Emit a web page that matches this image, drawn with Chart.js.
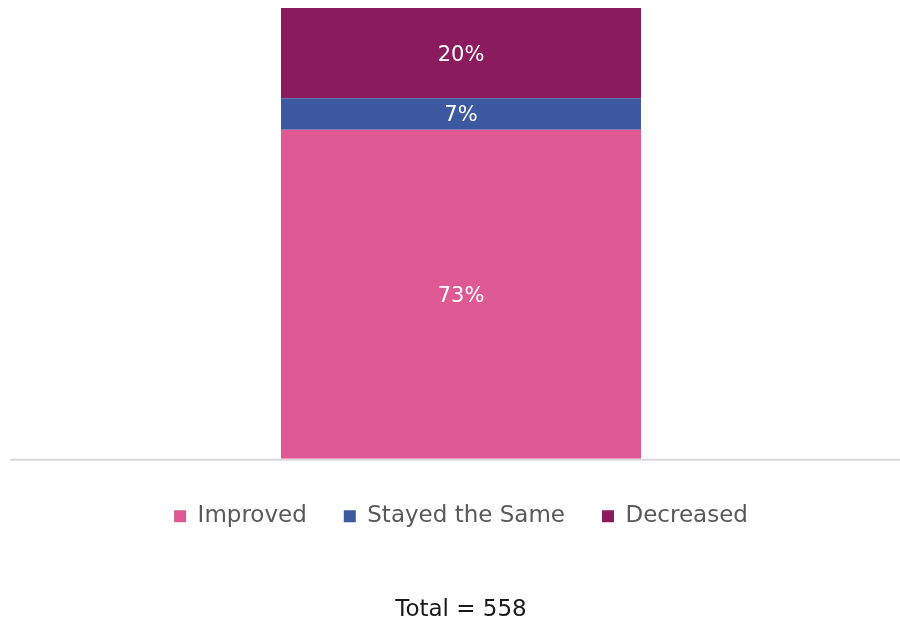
<!DOCTYPE html>
<html>
<head>
<meta charset="utf-8">
<script src="https://cdn.jsdelivr.net/npm/chart.js@4.4.1/dist/chart.umd.min.js"></script>
<style>
  html, body { margin: 0; padding: 0; background: #ffffff; }
  #wrap { width: 900px; height: 623px; }
</style>
</head>
<body>
<div id="wrap"><canvas id="chart" width="900" height="623"></canvas></div>
<script>
// Survey outcome shares (percent of respondents)
const categories = [''];
const seriesNames = ['Improved', 'Stayed the Same', 'Decreased'];
const improved = [73];
const stayedSame = [7];
const decreased = [20];
const totalLabel = 'Total = 558';

const colors = ['#DE5893', '#3B58A0', '#8B1A5E'];
const FONT = "'DejaVu Sans', 'Open Sans', sans-serif";

// Writes each segment's value in the middle of its bar
const segmentLabels = {
  id: 'segmentLabels',
  afterDatasetsDraw(chart) {
    const ctx = chart.ctx;
    ctx.save();
    ctx.fillStyle = '#ffffff';
    ctx.font = '21px ' + FONT;
    ctx.textAlign = 'center';
    ctx.textBaseline = 'middle';
    chart.data.datasets.forEach((ds, i) => {
      const meta = chart.getDatasetMeta(i);
      meta.data.forEach((bar, j) => {
        const p = bar.getProps(['x', 'y', 'base'], true);
        ctx.fillText(ds.data[j] + '%', p.x, (p.y + p.base) / 2 + 2);
      });
    });
    ctx.restore();
  }
};

// Baseline running across the full plot width
const baseline = {
  id: 'baseline',
  beforeDatasetsDraw(chart) {
    const ctx = chart.ctx;
    const y = chart.scales.y.getPixelForValue(0);
    ctx.save();
    ctx.strokeStyle = '#d9d9d9';
    ctx.lineWidth = 2;
    ctx.beginPath();
    ctx.moveTo(10, y + 1);
    ctx.lineTo(chart.chartArea.right, y + 1);
    ctx.stroke();
    ctx.restore();
  }
};

new Chart(document.getElementById('chart'), {
  type: 'bar',
  data: {
    labels: categories,
    datasets: [
      { label: seriesNames[0], data: improved, backgroundColor: colors[0] },
      { label: seriesNames[1], data: stayedSame, backgroundColor: colors[1] },
      { label: seriesNames[2], data: decreased, backgroundColor: colors[2] }
    ]
  },
  options: {
    responsive: false,
    animation: false,
    layout: { padding: { top: 8, left: 22, right: 0, bottom: 0 } },
    datasets: { bar: { barPercentage: 0.41, categoryPercentage: 1.0, borderWidth: 0 } },
    scales: {
      x: {
        stacked: true,
        display: true,
        ticks: { display: false },
        grid: { display: false },
        border: { display: false },
        afterFit(scale) { scale.height = 9; }
      },
      y: { stacked: true, display: false, min: 0, max: 100 }
    },
    plugins: {
      legend: {
        position: 'bottom',
        labels: {
          boxWidth: 12,
          boxHeight: 12,
          padding: 37,
          color: '#595959',
          font: { family: FONT, size: 23 }
        }
      },
      title: {
        display: true,
        position: 'bottom',
        text: totalLabel,
        color: '#1a1a1a',
        font: { family: FONT, size: 23, weight: 'normal', lineHeight: 1.1 },
        padding: { top: 60, bottom: 0 }
      },
      tooltip: { enabled: false }
    }
  },
  plugins: [baseline, segmentLabels]
});
</script>
</body>
</html>
